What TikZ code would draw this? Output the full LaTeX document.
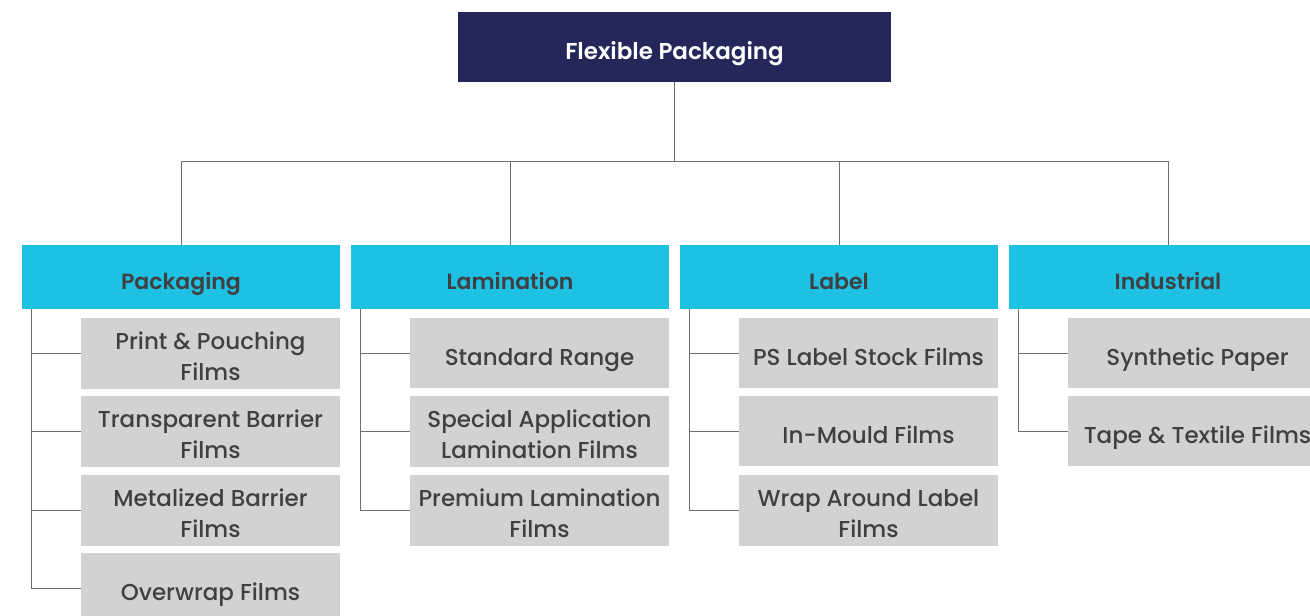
\documentclass[tikz,border=0pt]{standalone}
\usepackage{fontspec}
\setmainfont{Poppins}[UprightFont={* Medium},BoldFont={* SemiBold}]
\usetikzlibrary{positioning}
\definecolor{rootblue}{HTML}{23275A}
\definecolor{headcyan}{HTML}{1EC0E4}
\definecolor{filmgray}{HTML}{D1D2D4}
\definecolor{textgray}{HTML}{404040}
\definecolor{linegray}{HTML}{6E6E6E}
\newcommand{\topstrut}{\rule[-8pt]{0pt}{40pt}}
\newcommand{\botstrut}{\rule[-8pt]{0pt}{8pt}}
\newcommand{\filmlines}[2]{\topstrut#1\\#2\botstrut}
\tikzset{
    centred text/.style={execute at begin node=\topstrut,execute at end node=\botstrut},
    root box/.style={centred text,fill=rootblue,text=white,minimum width=433pt,minimum height=70pt,inner sep=0pt,font=\fontsize{23}{27}\selectfont\bfseries},
    head box/.style={centred text,fill=headcyan,text=textgray,minimum width=318pt,minimum height=64pt,inner sep=0pt,font=\fontsize{22}{26}\selectfont\bfseries},
    film box/.style={centred text,fill=filmgray,text=textgray,minimum width=259pt,minimum height=70pt,inner sep=0pt,align=center,font=\fontsize{23}{31}\selectfont},
    tree line/.style={draw=linegray,line width=0.9pt},
}
\begin{document}
\begin{tikzpicture}[x=1pt,y=-1pt]
        \useasboundingbox[fill=white] (0,0) rectangle (1310,616);
        \clip (0,0) rectangle (1310,616);
        \node[root box] (flex) at (674.5,47) {Flexible Packaging};

        % market segments
        \node[head box] (pack) at (181,277) {Packaging};
        \node[head box] (lami) at (510,277) {Lamination};
        \node[head box] (labl) at (839,277) {Label};
        \node[head box] (indu) at (1168,277) {Industrial};
        \foreach \seg in {pack,lami,labl,indu}
            \draw[tree line] (flex.south) -- ++(0,79) -| (\seg.north);

        % packaging films
        \node[film box] (pack1) at (210.5,353) {\filmlines{Print \& Pouching}{Films}};
        \node[film box] (pack2) at (210.5,431) {\filmlines{Transparent Barrier}{Films}};
        \node[film box] (pack3) at (210.5,510) {\filmlines{Metalized Barrier}{Films}};
        \node[film box] (pack4) at (210.5,588) {Overwrap Films};
        % lamination films
        \node[film box] (lami1) at (539.5,353) {Standard Range};
        \node[film box] (lami2) at (539.5,431) {\filmlines{Special Application}{Lamination Films}};
        \node[film box] (lami3) at (539.5,510) {\filmlines{Premium Lamination}{Films}};
        % label films
        \node[film box] (labl1) at (868.5,353) {PS Label Stock Films};
        \node[film box] (labl2) at (868.5,431) {In-Mould Films};
        \node[film box] (labl3) at (868.5,510) {\filmlines{Wrap Around Label}{Films}};
        % industrial films
        \node[film box] (indu1) at (1197.5,353) {Synthetic Paper};
        \node[film box] (indu2) at (1197.5,431) {Tape \& Textile Films};

        \foreach \seg/\last in {pack/4,lami/3,labl/3,indu/2}
            \foreach \i in {1,...,\last}
                \draw[tree line] ([xshift=10pt]\seg.south west) |- (\seg\i.west);
    \end{tikzpicture}
\end{document}
